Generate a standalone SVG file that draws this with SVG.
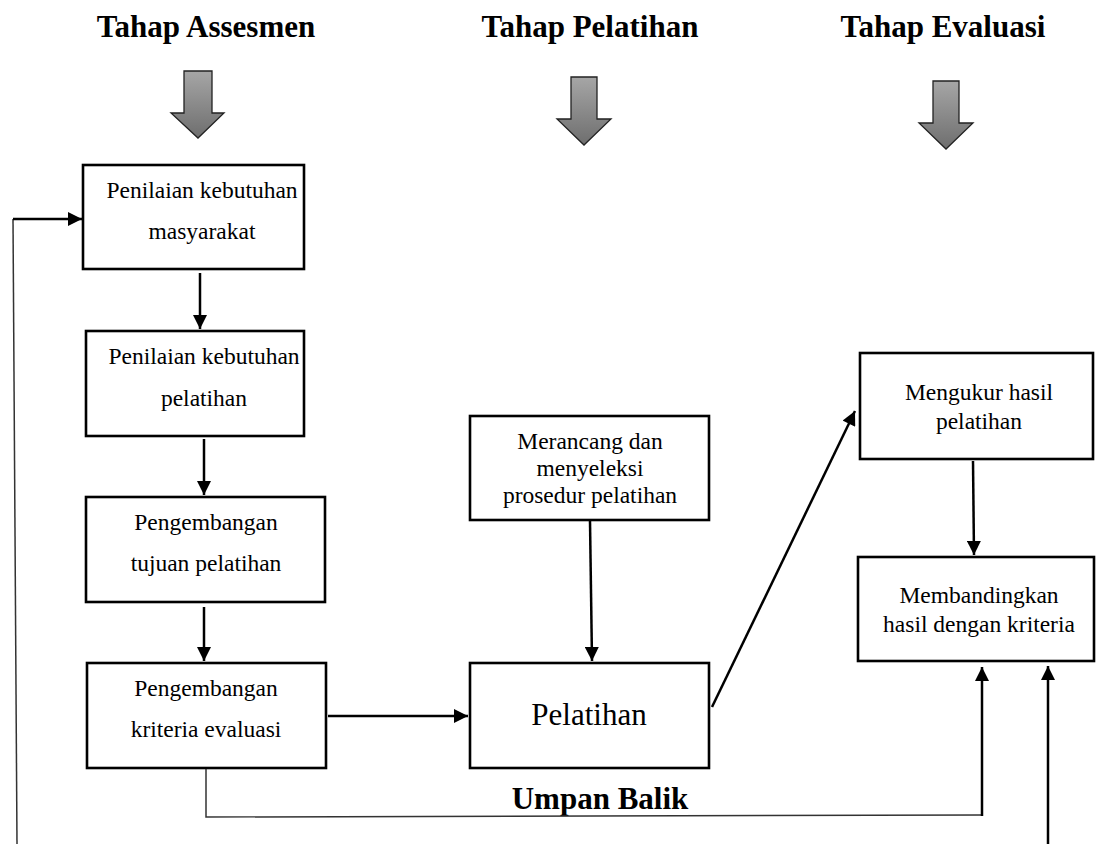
<svg xmlns="http://www.w3.org/2000/svg" width="1096" height="844" viewBox="0 0 1096 844">
<style>
.box{fill:#fff;stroke:#000;stroke-width:2.6}
.t{font-family:"Liberation Serif","Times New Roman",serif;font-size:23.5px;fill:#000;text-anchor:middle}
.h{font-family:"Liberation Serif","Times New Roman",serif;font-size:31px;font-weight:bold;fill:#000;text-anchor:middle}
.big{font-family:"Liberation Serif","Times New Roman",serif;font-size:31px;fill:#000;text-anchor:middle}
.c{stroke:#000;stroke-width:2.5;fill:none}
.thin{stroke:#333;stroke-width:1.5;fill:none}
.blk{fill:url(#g);stroke:#222;stroke-width:1.3}
</style>
<defs>
<marker id="ah" viewBox="0 0 10 10" refX="10" refY="5" markerWidth="15" markerHeight="14" markerUnits="userSpaceOnUse" orient="auto">
<path d="M0,0 L10,5 L0,10 Z" fill="#000"/>
</marker>
<linearGradient id="g" x1="0" y1="0" x2="0" y2="1">
<stop offset="0" stop-color="#a6a6a6"/>
<stop offset="1" stop-color="#6e6e6e"/>
</linearGradient>
</defs>

<g id="titles">
<text class="h" x="206" y="37">Tahap Assesmen</text>
<text class="h" x="590" y="37">Tahap Pelatihan</text>
<text class="h" x="943" y="37">Tahap Evaluasi</text>
</g>

<g id="phase-arrows">
<path class="blk" d="M184,71 H212 V113 H224 L198,138 L171,113 H184 Z"/>
<path class="blk" d="M571,77 H597 V119 H611 L584,145 L557,119 H571 Z"/>
<path class="blk" d="M933,81 H959 V123 H973 L946,149 L919,123 H933 Z"/>
</g>

<g id="n1">
<rect class="box" x="83" y="165" width="221" height="104"/>
<text class="t" x="202" y="198">Penilaian kebutuhan</text>
<text class="t" x="202" y="239">masyarakat</text>
</g>
<g id="n2">
<rect class="box" x="86" y="331" width="218" height="105"/>
<text class="t" x="204" y="364">Penilaian kebutuhan</text>
<text class="t" x="204" y="406">pelatihan</text>
</g>
<g id="n3">
<rect class="box" x="86" y="497" width="239" height="105"/>
<text class="t" x="206" y="530">Pengembangan</text>
<text class="t" x="206" y="571">tujuan pelatihan</text>
</g>
<g id="n4">
<rect class="box" x="87" y="663" width="239" height="105"/>
<text class="t" x="206" y="696">Pengembangan</text>
<text class="t" x="206" y="737">kriteria evaluasi</text>
</g>
<g id="n5">
<rect class="box" x="470" y="416" width="239" height="104"/>
<text class="t" x="590" y="449">Merancang dan</text>
<text class="t" x="590" y="476">menyeleksi</text>
<text class="t" x="590" y="503">prosedur pelatihan</text>
</g>
<g id="n6">
<rect class="box" x="470" y="663" width="239" height="105"/>
<text class="big" x="589" y="725">Pelatihan</text>
</g>
<g id="n7">
<rect class="box" x="860" y="353" width="233" height="106"/>
<text class="t" x="979" y="400">Mengukur hasil</text>
<text class="t" x="979" y="429">pelatihan</text>
</g>
<g id="n8">
<rect class="box" x="858" y="557" width="236" height="104"/>
<text class="t" x="979" y="603">Membandingkan</text>
<text class="t" x="979" y="632">hasil dengan kriteria</text>
</g>

<g id="label">
<text class="h" x="600" y="809">Umpan Balik</text>
</g>

<g id="connectors">
<line class="c" x1="200" y1="273" x2="200" y2="329" marker-end="url(#ah)"/>
<line class="c" x1="204" y1="439" x2="204" y2="495" marker-end="url(#ah)"/>
<line class="c" x1="204" y1="607" x2="204" y2="661" marker-end="url(#ah)"/>
<line class="c" x1="328" y1="716" x2="468" y2="716" marker-end="url(#ah)"/>
<line class="c" x1="590" y1="521" x2="592" y2="661" marker-end="url(#ah)"/>
<line class="c" x1="712" y1="707" x2="855" y2="411" marker-end="url(#ah)"/>
<line class="c" x1="973" y1="461" x2="974" y2="555" marker-end="url(#ah)"/>
<polyline class="thin" points="206,769 206,817 982,815"/>
<line class="c" x1="982" y1="816" x2="982" y2="667" marker-end="url(#ah)"/>
<line class="c" x1="1048" y1="844" x2="1048" y2="666" marker-end="url(#ah)"/>
<polyline class="thin" points="17,844 13,219"/>
<line class="c" x1="13" y1="219" x2="82" y2="219" marker-end="url(#ah)"/>
</g>
</svg>
